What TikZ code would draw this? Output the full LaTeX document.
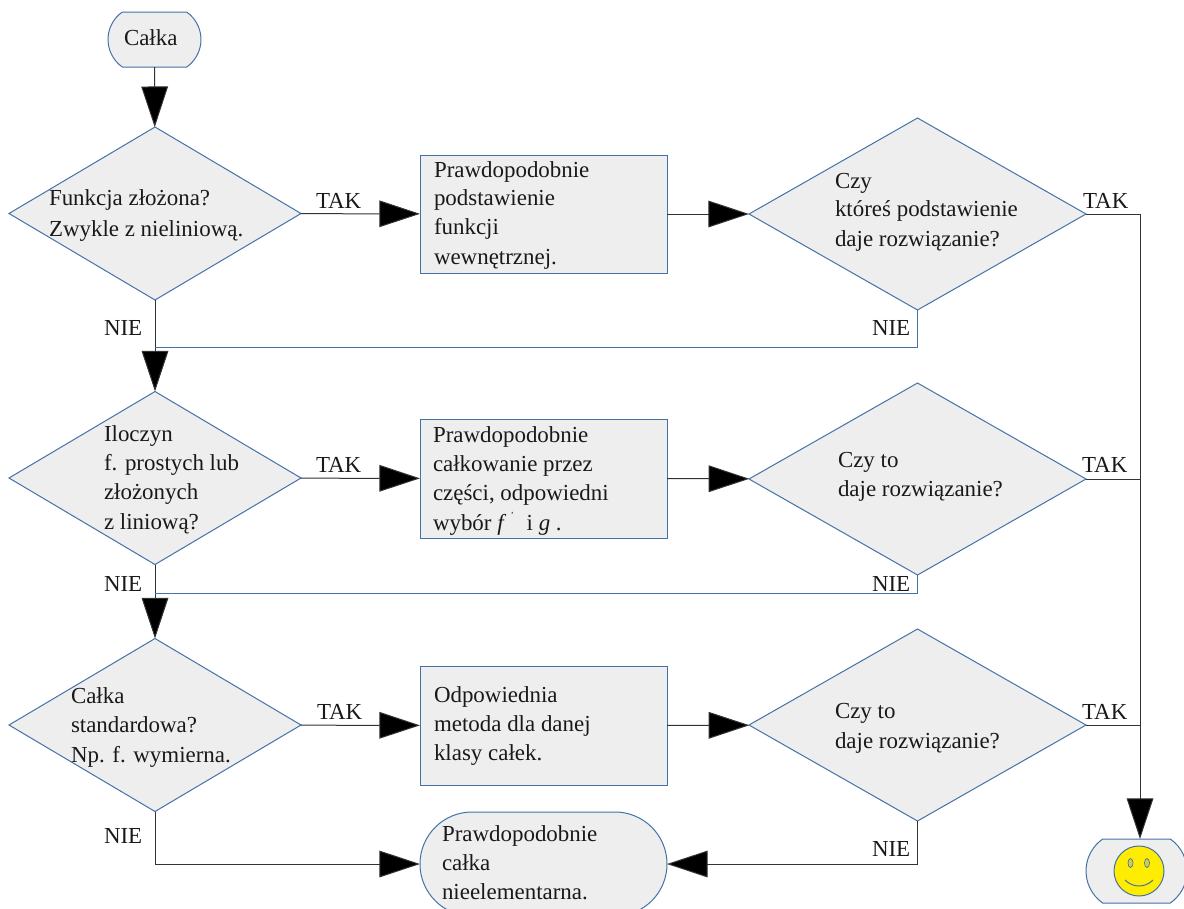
\documentclass[tikz,border=0pt]{standalone}
\usepackage{fontspec}
\setmainfont{Liberation Serif}
\usetikzlibrary{shapes.geometric,shapes.misc,arrows.meta}
\definecolor{edgeblue}{HTML}{4472A8}
\definecolor{fillgrey}{HTML}{EEEEEE}
\definecolor{linegrey}{HTML}{333333}
\tikzset{
 x=0.75pt,y=-0.75pt,
 shapeline/.style={draw=edgeblue,fill=fillgrey,line width=0.75pt,inner sep=0pt,outer sep=0pt},
 dec/.style={shapeline,diamond,minimum width=#1*0.75pt},
 decleft/.style={shapeline,diamond,minimum width=292*0.75pt,minimum height=173*0.75pt,aspect=1.69},
 decright/.style={shapeline,diamond,minimum width=337*0.75pt,minimum height=192*0.75pt,aspect=1.755},
 procbox/.style={shapeline,rectangle,minimum width=247*0.75pt,minimum height=118*0.75pt},
 term/.style={shapeline,rounded rectangle,rounded rectangle arc length=110},
 txt/.style={inner sep=0pt,outer sep=0pt,anchor=base west,font=\fontsize{17.2}{17.2}\selectfont,text=black!90},
 conn/.style={draw=linegrey,line width=0.75pt},
 bluec/.style={draw=edgeblue,line width=0.75pt},
 tip/.style={-{Triangle[length=30.5pt,width=20pt,fill=black]}},
}
\begin{document}
\begin{tikzpicture}
\clip (0,0) rectangle (1184,908);
% terminators
\node[term,minimum width=93*0.75pt,minimum height=55*0.75pt] (start) at (154.5,39.5) {};
\node[term,rounded rectangle arc length=180,minimum width=247*0.75pt,minimum height=104*0.75pt] (nonel) at (543.5,864) {};
\node[term,minimum width=101*0.75pt,minimum height=64*0.75pt] (happy) at (1136.5,871) {};
% decisions
\node[decleft] (d1) at (155,213.5) {};
\node[decleft] (d3) at (155,478) {};
\node[decleft] (d5) at (155,725) {};
\node[decright] (d2) at (917.5,214) {};
\node[decright] (d4) at (917.5,479) {};
\node[decright] (d6) at (917.5,725) {};
% process boxes
\node[procbox] (b1) at (543.5,214) {};
\node[procbox,minimum height=119*0.75pt] (b2) at (543.5,478.5) {};
\node[procbox,minimum height=119*0.75pt] (b3) at (543.5,725.5) {};
% smiley
\node[draw=edgeblue,fill=yellow!95!orange,circle,line width=0.75pt,minimum size=50*0.75pt,inner sep=0pt] (face) at (1139,871) {};
\node[draw=edgeblue,fill=yellow!60!gray,ellipse,line width=0.5pt,minimum width=5*0.75pt,minimum height=9*0.75pt,inner sep=0pt] (eyeL) at (1130.5,863) {};
\node[draw=edgeblue,fill=yellow!60!gray,ellipse,line width=0.5pt,minimum width=5*0.75pt,minimum height=9*0.75pt,inner sep=0pt] (eyeR) at (1147,863) {};
\coordinate (mouthL) at (1125,880);
\coordinate (mouthR) at (1153,880);
\draw[bluec] (mouthL) .. controls (1133,888) and (1145,888) .. (mouthR);
% junctions
\coordinate (j1) at (155,347);
\coordinate (j2) at (155,593);
\coordinate (r1) at (1140,214);
\coordinate (r2) at (1140,479);
\coordinate (r3) at (1140,725);
\coordinate (hit) at (1140,839);
% connectors
\draw[conn,tip] (start) -- (d1);
\draw[conn,tip] (d1) -- (d3);
\draw[conn,tip] (d3) -- (d5);
\draw[conn,tip] (d1) -- (b1);
\draw[conn,tip] (d3) -- (b2);
\draw[conn,tip] (d5) -- (b3);
\draw[conn,tip] (b1) -- (d2);
\draw[conn,tip] (b2) -- (d4);
\draw[conn,tip] (b3) -- (d6);
\draw[bluec] (d2.south) |- (j1);
\draw[bluec] (d4.south) |- (j2);
\draw[conn] (d2.east) -- (r1);
\draw[conn] (d4.east) -- (r2);
\draw[conn] (d6.east) -- (r3);
\draw[conn,tip] (r1) -- (hit);
\draw[conn,tip] (d5.south) |- (nonel.west);
\draw[conn,tip] (d6.south) |- (nonel.east);
% texts
\node[txt] (t0) at (124,45) {Całka};
\node[txt] (t1a) at (49,205) {Funkcja złożona?};
\node[txt] (t1b) at (49,236) {Zwykle z nieliniową.};
\node[txt] (t2a) at (434,177) {Prawdopodobnie};
\node[txt] (t2b) at (434,205) {podstawienie};
\node[txt] (t2c) at (434,234) {funkcji};
\node[txt] (t2d) at (434,264) {wewnętrznej.};
\node[txt] (t3a) at (835,188) {Czy};
\node[txt] (t3b) at (835,216) {któreś podstawienie};
\node[txt] (t3c) at (835,246) {daje rozwiązanie?};
\node[txt] (t4a) at (104,441) {Iloczyn};
\node[txt] (t4b) at (104,470) {f. prostych lub};
\node[txt] (t4c) at (104,499) {złożonych};
\node[txt] (t4d) at (104,529) {z liniową?};
\node[txt] (t5a) at (433,442) {Prawdopodobnie};
\node[txt] (t5b) at (433,471) {całkowanie przez};
\node[txt] (t5c) at (433,500) {części, odpowiedni};
\node[txt] (t5d) at (433,530) {wybór \textit{f}\,\raisebox{1.1ex}{\fontsize{7}{7}\selectfont\textit{'}}\,\, i \textit{g} .};
\node[txt] (t6a) at (838,467) {Czy to};
\node[txt] (t6b) at (838,496) {daje rozwiązanie?};
\node[txt] (t7a) at (71,703) {Całka};
\node[txt] (t7b) at (71,732) {standardowa?};
\node[txt] (t7c) at (71,762) {Np. f. wymierna.};
\node[txt] (t8a) at (434,702) {Odpowiednia};
\node[txt] (t8b) at (434,731) {metoda dla danej};
\node[txt] (t8c) at (434,760) {klasy całek.};
\node[txt] (t9a) at (835,718) {Czy to};
\node[txt] (t9b) at (835,748) {daje rozwiązanie?};
\node[txt] (t10a) at (442,841) {Prawdopodobnie};
\node[txt] (t10b) at (442,870) {całka};
\node[txt] (t10c) at (442,899) {nieelementarna.};
% TAK / NIE
\node[txt] (k1) at (316,208) {TAK};
\node[txt] (k2) at (316,472) {TAK};
\node[txt] (k3) at (317,719) {TAK};
\node[txt] (k4) at (1083,208) {TAK};
\node[txt] (k5) at (1082,472) {TAK};
\node[txt] (k6) at (1082,719) {TAK};
\node[txt] (n1) at (104,335) {NIE};
\node[txt] (n2) at (872,335) {NIE};
\node[txt] (n3) at (104,591) {NIE};
\node[txt] (n4) at (872,591) {NIE};
\node[txt] (n5) at (104,843) {NIE};
\node[txt] (n6) at (872,856) {NIE};
\end{tikzpicture}
\end{document}
